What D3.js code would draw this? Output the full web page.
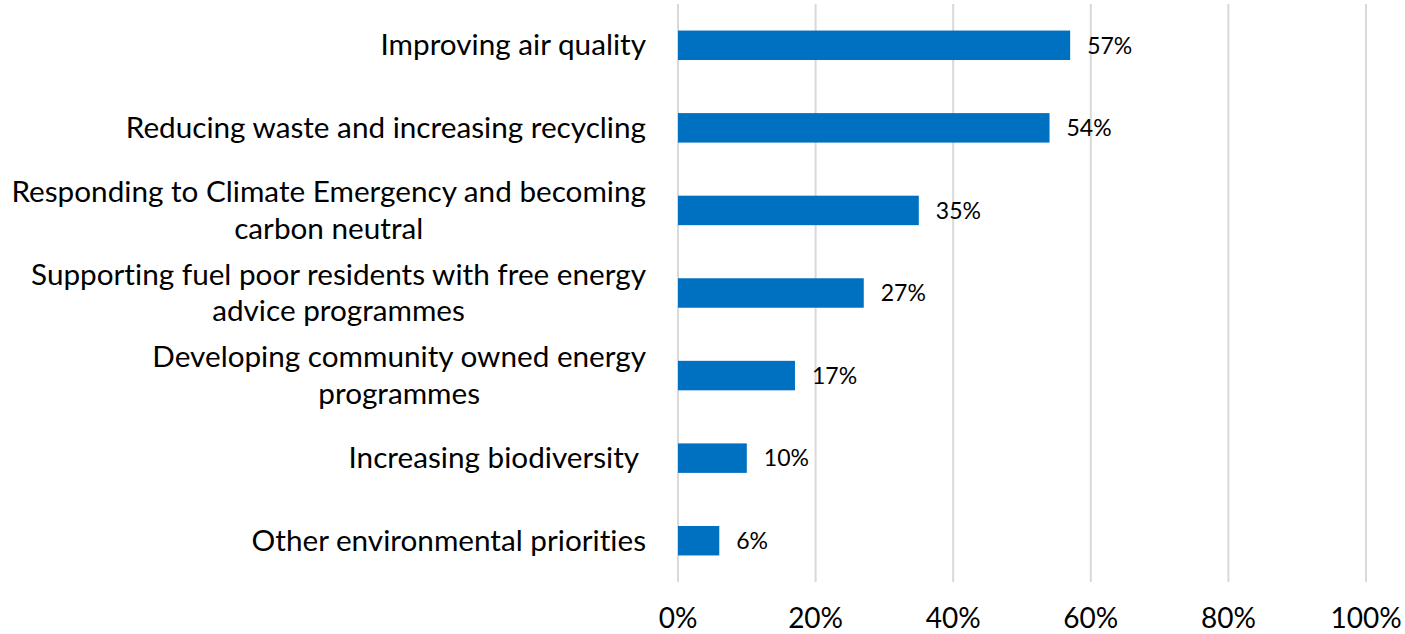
<!DOCTYPE html>
<html>
<head>
<meta charset="utf-8">
<script src="https://cdn.jsdelivr.net/npm/d3@7"></script>
<style>
  html, body { margin: 0; padding: 0; background: #fff; }
  svg { display: block; }
  text { font-family: Lato, "Open Sans", sans-serif; fill: #000; white-space: pre; font-variant-ligatures: none; font-feature-settings: "liga" 0, "clig" 0; }
</style>
</head>
<body>
<svg id="chart" width="1405" height="634"></svg>
<script>
const categories = [
  ["Improving air quality"],
  ["Reducing waste and increasing recycling"],
  ["Responding to Climate Emergency and becoming", "carbon neutral"],
  ["Supporting fuel poor residents with free energy", "advice programmes"],
  ["Developing community owned energy", "programmes"],
  ["Increasing biodiversity "],
  ["Other environmental priorities"]
];
const values = [0.57, 0.54, 0.35, 0.27, 0.17, 0.10, 0.06];
const valueLabels = ["57%", "54%", "35%", "27%", "17%", "10%", "6%"];
const ticks = [0, 0.2, 0.4, 0.6, 0.8, 1.0];
const tickLabels = ["0%", "20%", "40%", "60%", "80%", "100%"];

const svg = d3.select("#chart");
const pLeft = 678, pRight = 1366, pTop = 4, pBottom = 582;

const keys = categories.map((c, i) => i);
const x = d3.scaleLinear().domain([0, 1]).range([pLeft, pRight]);
const y = d3.scaleBand().domain(keys).range([pTop, pBottom])
  .paddingInner(0.643).paddingOuter(0.3215);

svg.append("g").selectAll("line").data(ticks).join("line")
  .attr("x1", d => x(d)).attr("x2", d => x(d))
  .attr("y1", pTop).attr("y2", pBottom)
  .attr("stroke", "#d9d9d9").attr("stroke-width", 2);

svg.append("g").selectAll("rect").data(keys).join("rect")
  .attr("x", x(0)).attr("y", i => y(i))
  .attr("width", i => x(values[i]) - x(0))
  .attr("height", y.bandwidth())
  .attr("fill", "#0070c0");

svg.append("g").selectAll("text").data(keys).join("text")
  .attr("x", i => x(values[i]) + 17)
  .attr("y", i => y(i) + y.bandwidth() / 2)
  .attr("dy", "0.36em")
  .attr("font-size", 23)
  .text(i => valueLabels[i]);

const lineH = 36.5;
const labelRight = pLeft - 32;
const cat = svg.append("g").selectAll("text").data(keys).join("text")
  .attr("x", labelRight)
  .attr("text-anchor", "end")
  .attr("font-size", 29.7)
  .attr("y", i => y(i) + y.bandwidth() / 2);
cat.each(function(i) {
  const lines = categories[i];
  const n = lines.length;
  const t = d3.select(this);
  lines.forEach((ln, j) => {
    t.append("tspan").attr("x", labelRight)
      .attr("dy", j === 0 ? ((-(n - 1) / 2) * lineH + 10) + "px" : lineH + "px")
      .text(ln);
  });
});
cat.each(function(i) {
  const lines = categories[i];
  if (lines.length < 2) return;
  const spans = d3.select(this).selectAll("tspan").nodes();
  const widths = spans.map(s => s.getComputedTextLength());
  const maxW = Math.max(...widths);
  const cx = labelRight - maxW / 2;
  spans.forEach(s => d3.select(s).attr("x", cx));
  d3.select(this).attr("text-anchor", "middle");
});

svg.append("g").selectAll("text").data(ticks).join("text")
  .attr("x", d => x(d)).attr("y", 618)
  .attr("dy", "0.36em")
  .attr("text-anchor", "middle")
  .attr("font-size", 28)
  .text((d, i) => tickLabels[i]);
</script>
</body>
</html>
